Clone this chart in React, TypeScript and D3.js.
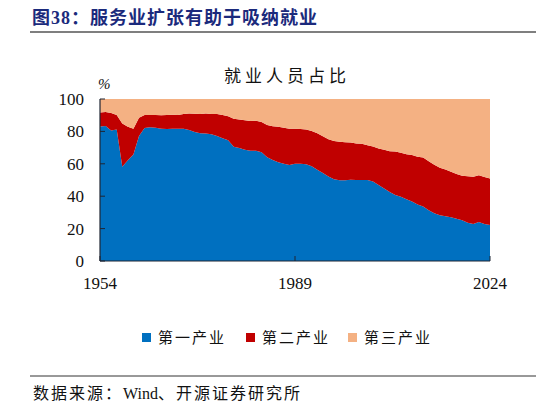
import React, { useEffect, useRef } from 'react';
import * as d3 from 'd3';

// employment share by sector, %
const years = d3.range(1954, 2025);
const primary = [
  83.1, 83.3, 80.6, 81.2, 58.2, 62.2, 65.7, 77.2, 82.1, 82.5,
  82.2, 81.6, 81.5, 81.7, 81.7, 81.6, 80.8, 79.7, 78.9, 78.7,
  78.2, 77.2, 75.8, 74.5, 70.5, 69.8, 68.7, 68.1, 68.1, 67.1,
  64.0, 62.4, 60.9, 60.0, 59.3, 60.1, 60.1, 59.7, 58.5, 56.4,
  54.3, 52.2, 50.5, 49.9, 49.8, 50.1, 50.0, 50.0, 50.0, 49.1,
  46.9, 44.8, 42.6, 40.8, 39.6, 38.1, 36.7, 34.8, 33.6, 31.4,
  29.5, 28.3, 27.7, 27.0, 26.1, 25.1, 23.6, 22.9, 24.1, 22.8,
  22.2,
];
const secondary = [
  8.6, 8.6, 10.7, 9.0, 26.6, 20.6, 15.9, 11.2, 8.0, 7.7,
  7.9, 8.4, 8.7, 8.6, 8.5, 9.1, 10.2, 11.2, 11.9, 12.3,
  12.6, 13.5, 14.4, 14.8, 17.3, 17.6, 18.2, 18.3, 18.4, 18.7,
  19.9, 20.8, 21.9, 22.2, 22.4, 21.6, 21.4, 21.4, 21.7, 22.4,
  22.7, 23.0, 23.5, 23.7, 23.5, 23.0, 22.5, 22.3, 21.4, 21.6,
  22.5, 23.8, 25.2, 26.8, 27.2, 27.8, 28.7, 29.5, 30.3, 30.1,
  29.9, 29.3, 28.8, 28.1, 27.6, 27.5, 28.7, 29.1, 28.8, 29.1,
  28.8,
];
const tertiary = [
  8.3, 8.1, 8.7, 9.8, 15.2, 17.2, 18.4, 11.6, 9.9, 9.8,
  9.9, 10.0, 9.8, 9.7, 9.8, 9.3, 9.0, 9.1, 9.2, 9.0,
  9.2, 9.3, 9.8, 10.7, 12.2, 12.6, 13.1, 13.6, 13.5, 14.2,
  16.1, 16.8, 17.2, 17.8, 18.3, 18.3, 18.5, 18.9, 19.8, 21.2,
  23.0, 24.8, 26.0, 26.4, 26.7, 26.9, 27.5, 27.7, 28.6, 29.3,
  30.6, 31.4, 32.2, 32.4, 33.2, 34.1, 34.6, 35.7, 36.1, 38.5,
  40.6, 42.4, 43.5, 44.9, 46.3, 47.4, 47.7, 48.0, 47.1, 48.1,
  49.0,
];
const seriesNames = ['第一产业', '第二产业', '第三产业'];
const xTicks = [1954, 1989, 2024];
const yTicks = [0, 20, 40, 60, 80, 100];

const colors = ['#0070C0', '#C00000', '#F4B183'];
const serif = '"Liberation Serif", "Times New Roman", serif';
const cjk = '"Noto Sans CJK SC", sans-serif';

const App: React.FC = () => {
  const svgRef = useRef<SVGSVGElement>(null);

  useEffect(() => {
    const svg = d3.select(svgRef.current);
    svg.selectAll('*').remove();

    const left = 100, right = 490, top = 99, bottom = 261;

    // header
    const title = svg.append('text')
      .attr('x', 32).attr('y', 24)
      .attr('font-family', cjk).attr('font-weight', 'bold')
      .attr('font-size', 18).attr('fill', '#1b2a7c')
      .attr('letter-spacing', 1);
    title.append('tspan').text('图');
    title.append('tspan').attr('font-family', serif).text('38');
    title.append('tspan').text('：服务业扩张有助于吸纳就业');
    svg.append('line')
      .attr('x1', 30).attr('x2', 536).attr('y1', 32).attr('y2', 32)
      .attr('stroke', '#555').attr('stroke-width', 1.5);

    svg.append('text')
      .attr('x', 287).attr('y', 82).attr('text-anchor', 'middle')
      .attr('font-family', cjk).attr('font-size', 17).attr('fill', '#111')
      .attr('letter-spacing', 4)
      .text('就业人员占比');
    svg.append('text')
      .attr('x', 98).attr('y', 89)
      .attr('font-family', serif).attr('font-style', 'italic')
      .attr('font-size', 15).attr('fill', '#111')
      .text('%');

    const x = d3.scaleLinear().domain([1954, 2024]).range([left, right]);
    const y = d3.scaleLinear().domain([0, 100]).range([bottom, top]);

    const rows = years.map((yr, i) => ({
      year: yr, a: primary[i], b: secondary[i], c: tertiary[i],
    }));
    const stacked = d3.stack<any>().keys(['a', 'b', 'c'])(rows);
    const area = d3.area<any>()
      .x(d => x(d.data.year))
      .y0(d => y(d[0]))
      .y1(d => y(Math.min(d[1], 100)));

    svg.append('g')
      .selectAll('path')
      .data(stacked)
      .enter()
      .append('path')
      .attr('d', d => area(d) || '')
      .attr('fill', (_, i) => colors[i]);

    // axes
    const axisColor = '#1f2533';
    svg.append('line')
      .attr('x1', left).attr('x2', left).attr('y1', top).attr('y2', bottom)
      .attr('stroke', axisColor).attr('stroke-width', 1.2);
    svg.append('line')
      .attr('x1', left).attr('x2', right).attr('y1', bottom).attr('y2', bottom)
      .attr('stroke', axisColor).attr('stroke-width', 1.2);

    yTicks.forEach(t => {
      svg.append('line')
        .attr('x1', left).attr('x2', left + 5).attr('y1', y(t)).attr('y2', y(t))
        .attr('stroke', axisColor);
      svg.append('text')
        .attr('x', 84).attr('y', y(t)).attr('dy', '0.35em')
        .attr('text-anchor', 'end')
        .attr('font-family', serif).attr('font-size', 17).attr('fill', '#111')
        .text(t);
    });
    xTicks.forEach(t => {
      svg.append('line')
        .attr('x1', x(t)).attr('x2', x(t)).attr('y1', bottom).attr('y2', bottom - 5)
        .attr('stroke', axisColor);
      svg.append('text')
        .attr('x', x(t)).attr('y', 289).attr('text-anchor', 'middle')
        .attr('font-family', serif).attr('font-size', 17).attr('fill', '#111')
        .text(t);
    });

    // legend
    const legendX = [142, 246, 348];
    seriesNames.forEach((name, i) => {
      svg.append('rect')
        .attr('x', legendX[i]).attr('y', 333).attr('width', 9).attr('height', 9)
        .attr('fill', colors[i]);
      svg.append('text')
        .attr('x', legendX[i] + 16).attr('y', 343)
        .attr('font-family', cjk).attr('font-size', 15).attr('fill', '#111')
        .attr('letter-spacing', 2)
        .text(name);
    });

    // footer
    svg.append('line')
      .attr('x1', 30).attr('x2', 536).attr('y1', 376).attr('y2', 376)
      .attr('stroke', '#333').attr('stroke-width', 1);
    const src = svg.append('text')
      .attr('x', 33).attr('y', 399)
      .attr('font-family', cjk).attr('font-size', 16).attr('fill', '#111')
      .attr('letter-spacing', 2);
    src.append('tspan').text('数据来源：');
    src.append('tspan').attr('font-family', serif).attr('letter-spacing', 0).text('Wind');
    src.append('tspan').text('、开源证券研究所');
  }, []);

  return (
    <svg
      ref={svgRef}
      width={546}
      height={405}
      style={{ position: 'absolute', left: 0, top: 0, background: '#fff' }}
    />
  );
};

export default App;
